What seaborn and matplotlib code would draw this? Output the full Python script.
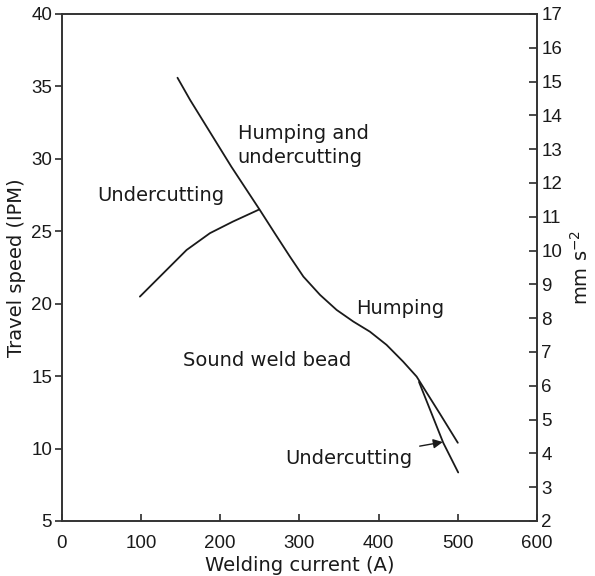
import numpy as np
import pandas as pd
import matplotlib
matplotlib.use("Agg")
import matplotlib.pyplot as plt
import seaborn as sns

# boundary between sound weld and humping / undercutting
main_current = [146, 162, 214, 250, 269, 288, 305, 326, 347, 368, 389, 410, 431, 448, 458.5, 477, 500]
main_speed = [35.6, 34.06, 29.46, 26.47, 24.85, 23.25, 21.87, 20.61, 19.57, 18.77, 18.07, 17.16, 16.0, 14.97, 14.05, 12.44, 10.4]

# undercutting boundary (low current)
under_current = [98.5, 128, 157.5, 187, 216, 249]
under_speed = [20.49, 22.1, 23.71, 24.87, 25.67, 26.5]

# undercutting branch (high current)
branch_current = [451, 481.6, 500.5]
branch_speed = [14.6, 10.4, 8.35]

sns.set_theme(style="ticks")
plt.rcParams['font.family'] = ['Liberation Sans', 'DejaVu Sans']

fig = plt.figure(figsize=(5.95, 5.76), dpi=100)
ax = fig.add_axes([0.104, 0.0955, 0.7985, 0.8802])

df_main = pd.DataFrame({"current": main_current, "speed": main_speed})
df_under = pd.DataFrame({"current": under_current, "speed": under_speed})
df_branch = pd.DataFrame({"current": branch_current, "speed": branch_speed})

for d in [df_main, df_under, df_branch]:
    sns.lineplot(data=d, x="current", y="speed", ax=ax, sort=False,
                 color="#1a1a1a", linewidth=1.3, estimator=None)

lab = dict(fontsize=14, family="DejaVu Sans", color="#1a1a1a")

ax.set_xlim(0, 600)
ax.set_ylim(5, 40)
ax.set_xticks([0, 100, 200, 300, 400, 500, 600])
ax.set_yticks([5, 10, 15, 20, 25, 30, 35, 40])
ax.set_xlabel("Welding current (A)", labelpad=3, **lab)
ax.set_ylabel("Travel speed (IPM)", labelpad=4, **lab)
ax.tick_params(axis="x", direction="in", length=5, labelsize=13.5, pad=10,
               color="#333333", labelcolor="#1a1a1a")
ax.tick_params(axis="y", direction="out", length=5, labelsize=13.5, pad=2,
               color="#333333", labelcolor="#1a1a1a")
for s in ax.spines.values():
    s.set_visible(True)
    s.set_linewidth(1.2)
    s.set_color("#333333")

ax2 = ax.twinx()
ax2.set_ylim(2, 17)
ax2.set_yticks(range(2, 18))
ax2.tick_params(axis="y", direction="in", length=6, labelsize=13.5, pad=3,
                color="#333333", labelcolor="#1a1a1a")
ax2.set_ylabel("mm s$^{-2}$", labelpad=6, **lab)
for s in ax2.spines.values():
    s.set_linewidth(1.2)
    s.set_color("#333333")

ax.text(222, 30.9, "Humping and\nundercutting", ha="left", va="center", linespacing=1.35, **lab)
ax.text(45, 27.5, "Undercutting", ha="left", va="center", **lab)
ax.text(372, 19.7, "Humping", ha="left", va="center", **lab)
ax.text(153, 16.05, "Sound weld bead", ha="left", va="center", **lab)
ax.annotate("Undercutting", xy=(481, 10.45), xytext=(282, 9.3),
            ha="left", va="center", **lab,
            arrowprops=dict(arrowstyle="-|>", color="#1a1a1a", lw=1.0,
                            shrinkA=3, shrinkB=0, mutation_scale=14))

fig.savefig("out.png", dpi=100)
